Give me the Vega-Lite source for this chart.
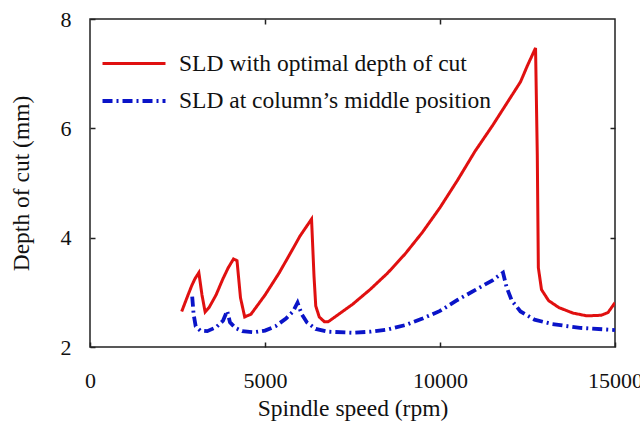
{
  "$schema": "https://vega.github.io/schema/vega-lite/v6.json",
  "autosize": "none",
  "width": 525,
  "height": 328,
  "padding": {"left": 90, "top": 19, "right": 25, "bottom": 75},
  "background": "white",
  "config": {
    "font": "Liberation Serif",
    "view": {"stroke": "#222", "strokeWidth": 1.5},
    "axis": {
      "domain": false,
      "grid": false,
      "tickColor": "#222",
      "tickSize": -5,
      "tickWidth": 1.5,
      "labelFont": "Liberation Serif",
      "labelFontSize": 22,
      "labelColor": "#111",
      "titleFont": "Liberation Serif",
      "titleFontSize": 23.5,
      "titleFontWeight": "normal",
      "titleColor": "#111"
    }
  },
  "datasets": {
    "curves": [
      {"s": "SLD with optimal depth of cut", "rpm": 2620, "d": 2.65},
      {"s": "SLD with optimal depth of cut", "rpm": 2800, "d": 2.95},
      {"s": "SLD with optimal depth of cut", "rpm": 2905, "d": 3.12},
      {"s": "SLD with optimal depth of cut", "rpm": 3000, "d": 3.25},
      {"s": "SLD with optimal depth of cut", "rpm": 3110, "d": 3.36},
      {"s": "SLD with optimal depth of cut", "rpm": 3200, "d": 2.95},
      {"s": "SLD with optimal depth of cut", "rpm": 3290, "d": 2.64},
      {"s": "SLD with optimal depth of cut", "rpm": 3400, "d": 2.72},
      {"s": "SLD with optimal depth of cut", "rpm": 3600, "d": 2.95},
      {"s": "SLD with optimal depth of cut", "rpm": 3800, "d": 3.25},
      {"s": "SLD with optimal depth of cut", "rpm": 3950, "d": 3.45},
      {"s": "SLD with optimal depth of cut", "rpm": 4100, "d": 3.61},
      {"s": "SLD with optimal depth of cut", "rpm": 4200, "d": 3.58},
      {"s": "SLD with optimal depth of cut", "rpm": 4300, "d": 2.9},
      {"s": "SLD with optimal depth of cut", "rpm": 4420, "d": 2.55},
      {"s": "SLD with optimal depth of cut", "rpm": 4600, "d": 2.6},
      {"s": "SLD with optimal depth of cut", "rpm": 5000, "d": 2.95},
      {"s": "SLD with optimal depth of cut", "rpm": 5400, "d": 3.35},
      {"s": "SLD with optimal depth of cut", "rpm": 5800, "d": 3.8},
      {"s": "SLD with optimal depth of cut", "rpm": 6000, "d": 4.03},
      {"s": "SLD with optimal depth of cut", "rpm": 6330, "d": 4.34},
      {"s": "SLD with optimal depth of cut", "rpm": 6400, "d": 3.3},
      {"s": "SLD with optimal depth of cut", "rpm": 6450, "d": 2.75},
      {"s": "SLD with optimal depth of cut", "rpm": 6550, "d": 2.55},
      {"s": "SLD with optimal depth of cut", "rpm": 6700, "d": 2.46},
      {"s": "SLD with optimal depth of cut", "rpm": 6800, "d": 2.46},
      {"s": "SLD with optimal depth of cut", "rpm": 7000, "d": 2.55},
      {"s": "SLD with optimal depth of cut", "rpm": 7500, "d": 2.78},
      {"s": "SLD with optimal depth of cut", "rpm": 8000, "d": 3.05},
      {"s": "SLD with optimal depth of cut", "rpm": 8500, "d": 3.35},
      {"s": "SLD with optimal depth of cut", "rpm": 9000, "d": 3.7},
      {"s": "SLD with optimal depth of cut", "rpm": 9500, "d": 4.1},
      {"s": "SLD with optimal depth of cut", "rpm": 10000, "d": 4.55},
      {"s": "SLD with optimal depth of cut", "rpm": 10500, "d": 5.05},
      {"s": "SLD with optimal depth of cut", "rpm": 11000, "d": 5.58},
      {"s": "SLD with optimal depth of cut", "rpm": 11500, "d": 6.05},
      {"s": "SLD with optimal depth of cut", "rpm": 12000, "d": 6.55},
      {"s": "SLD with optimal depth of cut", "rpm": 12300, "d": 6.85},
      {"s": "SLD with optimal depth of cut", "rpm": 12500, "d": 7.15},
      {"s": "SLD with optimal depth of cut", "rpm": 12730, "d": 7.47},
      {"s": "SLD with optimal depth of cut", "rpm": 12780, "d": 5.5},
      {"s": "SLD with optimal depth of cut", "rpm": 12810, "d": 3.45},
      {"s": "SLD with optimal depth of cut", "rpm": 12900, "d": 3.05},
      {"s": "SLD with optimal depth of cut", "rpm": 13100, "d": 2.85},
      {"s": "SLD with optimal depth of cut", "rpm": 13400, "d": 2.72},
      {"s": "SLD with optimal depth of cut", "rpm": 13800, "d": 2.62},
      {"s": "SLD with optimal depth of cut", "rpm": 14200, "d": 2.57},
      {"s": "SLD with optimal depth of cut", "rpm": 14600, "d": 2.58},
      {"s": "SLD with optimal depth of cut", "rpm": 14800, "d": 2.63},
      {"s": "SLD with optimal depth of cut", "rpm": 15000, "d": 2.81},
      {"s": "SLD at column’s middle position", "rpm": 2920, "d": 2.92},
      {"s": "SLD at column’s middle position", "rpm": 2960, "d": 2.6},
      {"s": "SLD at column’s middle position", "rpm": 3020, "d": 2.38},
      {"s": "SLD at column’s middle position", "rpm": 3150, "d": 2.3},
      {"s": "SLD at column’s middle position", "rpm": 3350, "d": 2.29},
      {"s": "SLD at column’s middle position", "rpm": 3600, "d": 2.36},
      {"s": "SLD at column’s middle position", "rpm": 3800, "d": 2.48},
      {"s": "SLD at column’s middle position", "rpm": 3920, "d": 2.66},
      {"s": "SLD at column’s middle position", "rpm": 4000, "d": 2.45},
      {"s": "SLD at column’s middle position", "rpm": 4150, "d": 2.35},
      {"s": "SLD at column’s middle position", "rpm": 4350, "d": 2.29},
      {"s": "SLD at column’s middle position", "rpm": 4700, "d": 2.27},
      {"s": "SLD at column’s middle position", "rpm": 5000, "d": 2.3},
      {"s": "SLD at column’s middle position", "rpm": 5300, "d": 2.38},
      {"s": "SLD at column’s middle position", "rpm": 5600, "d": 2.52},
      {"s": "SLD at column’s middle position", "rpm": 5800, "d": 2.65},
      {"s": "SLD at column’s middle position", "rpm": 5930, "d": 2.81},
      {"s": "SLD at column’s middle position", "rpm": 6050, "d": 2.6},
      {"s": "SLD at column’s middle position", "rpm": 6200, "d": 2.45},
      {"s": "SLD at column’s middle position", "rpm": 6450, "d": 2.33},
      {"s": "SLD at column’s middle position", "rpm": 6800, "d": 2.28},
      {"s": "SLD at column’s middle position", "rpm": 7500, "d": 2.26},
      {"s": "SLD at column’s middle position", "rpm": 8000, "d": 2.28},
      {"s": "SLD at column’s middle position", "rpm": 8500, "d": 2.32},
      {"s": "SLD at column’s middle position", "rpm": 9000, "d": 2.4},
      {"s": "SLD at column’s middle position", "rpm": 9500, "d": 2.52},
      {"s": "SLD at column’s middle position", "rpm": 10000, "d": 2.66},
      {"s": "SLD at column’s middle position", "rpm": 10500, "d": 2.86},
      {"s": "SLD at column’s middle position", "rpm": 11000, "d": 3.04},
      {"s": "SLD at column’s middle position", "rpm": 11500, "d": 3.22},
      {"s": "SLD at column’s middle position", "rpm": 11800, "d": 3.36},
      {"s": "SLD at column’s middle position", "rpm": 11900, "d": 3.1},
      {"s": "SLD at column’s middle position", "rpm": 12050, "d": 2.85},
      {"s": "SLD at column’s middle position", "rpm": 12300, "d": 2.65},
      {"s": "SLD at column’s middle position", "rpm": 12700, "d": 2.5},
      {"s": "SLD at column’s middle position", "rpm": 13200, "d": 2.42},
      {"s": "SLD at column’s middle position", "rpm": 14000, "d": 2.35},
      {"s": "SLD at column’s middle position", "rpm": 15000, "d": 2.31}
    ]
  },
  "data": {"name": "curves"},
  "layer": [
    {
      "mark": {"type": "line", "clip": true},
      "encoding": {
        "x": {
          "field": "rpm", "type": "quantitative",
          "scale": {"domain": [0, 15000], "nice": false},
          "axis": {"values": [0, 5000, 10000, 15000], "title": "Spindle speed (rpm)", "labelPadding": 28, "titlePadding": 5, "format": "d", "labelFlush": false, "labelOverlap": false}
        },
        "y": {
          "field": "d", "type": "quantitative",
          "scale": {"domain": [2, 8], "nice": false, "zero": false},
          "axis": {"values": [2, 4, 6, 8], "title": "Depth of cut (mm)", "labelPadding": 24, "titlePadding": 27, "labelFlush": false, "labelOverlap": false}
        },
        "color": {
          "field": "s", "type": "nominal",
          "scale": {"domain": ["SLD with optimal depth of cut", "SLD at column’s middle position"], "range": ["#e01010", "#0a14c8"]},
          "legend": {
            "title": null, "orient": "none", "legendX": 26, "legendY": 27,
            "symbolType": "M-2,0H2", "symbolSize": 992, "symbolStrokeWidth": 2,
            "symbolFillColor": "transparent",
            "labelFont": "Liberation Serif", "labelFontSize": 23.5, "labelColor": "#111",
            "labelOffset": 27, "rowPadding": 8, "labelLimit": 420
          }
        },
        "strokeDash": {
          "field": "s", "type": "nominal",
          "scale": {"domain": ["SLD with optimal depth of cut", "SLD at column’s middle position"], "range": [[1, 0], [10, 4, 2, 4]]},
          "legend": null
        },
        "strokeWidth": {
          "field": "s", "type": "nominal",
          "scale": {"domain": ["SLD with optimal depth of cut", "SLD at column’s middle position"], "range": [3, 3.8]},
          "legend": null
        }
      }
    },
    {
      "mark": {"type": "point", "opacity": 0},
      "encoding": {
        "x": {"field": "rpm", "type": "quantitative", "axis": {"orient": "top", "values": [5000, 10000], "labels": false, "title": null}},
        "y": {"field": "d", "type": "quantitative", "axis": {"orient": "right", "values": [4, 6], "labels": false, "title": null}}
      }
    }
  ],
  "resolve": {"axis": {"x": "independent", "y": "independent"}}
}
